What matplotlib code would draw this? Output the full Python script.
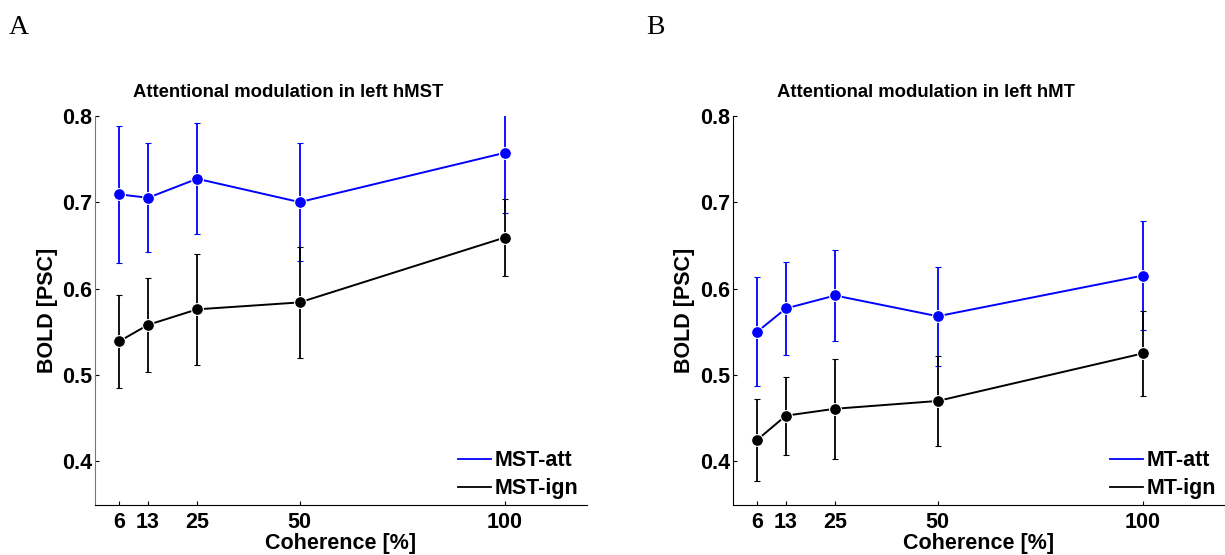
import matplotlib
matplotlib.use('Agg')
import matplotlib.pyplot as plt
from matplotlib.lines import Line2D

plt.rcParams['font.family'] = 'Liberation Sans'
plt.rcParams['font.weight'] = 'bold'

# coherence levels (%) and BOLD responses with error bars
coherence = [6, 13, 25, 50, 100]
tick_labels = ['6', '13', '25', '50', '100']
y_ticks = [0.4, 0.5, 0.6, 0.7, 0.8]

mst_att = [0.709, 0.705, 0.727, 0.700, 0.757]
mst_att_err = [0.079, 0.063, 0.064, 0.068, 0.070]
mst_ign = [0.539, 0.558, 0.576, 0.584, 0.659]
mst_ign_err = [0.054, 0.054, 0.064, 0.064, 0.045]

mt_att = [0.550, 0.577, 0.592, 0.568, 0.615]
mt_att_err = [0.063, 0.054, 0.053, 0.057, 0.063]
mt_ign = [0.425, 0.453, 0.461, 0.470, 0.525]
mt_ign_err = [0.047, 0.045, 0.058, 0.052, 0.049]

panels = [
    ('A', 'Attentional modulation in left hMST', 'MST', mst_att, mst_att_err, mst_ign, mst_ign_err),
    ('B', 'Attentional modulation in left hMT', 'MT', mt_att, mt_att_err, mt_ign, mt_ign_err),
]

fig = plt.figure(figsize=(12.25, 5.55), dpi=100)
positions = [[0.0773, 0.0906, 0.4016, 0.701], [0.598, 0.0906, 0.4019, 0.701]]

for pos, (letter, title, name, att, att_err, ign, ign_err) in zip(positions, panels):
    ax = fig.add_axes(pos)
    for vals, errs, col in [(att, att_err, 'blue'), (ign, ign_err, 'black')]:
        ax.errorbar(coherence, vals, yerr=errs, color=col, lw=1.4, elinewidth=1.3,
                    capsize=2.5, capthick=1.3, marker='o', markersize=8.5,
                    markerfacecolor=col, markeredgecolor='white', markeredgewidth=0.8)
    ax.set_xlim(0, 120)
    ax.set_ylim(0.35, 0.8)
    ax.set_xticks(coherence)
    ax.set_xticklabels(tick_labels)
    ax.set_yticks(y_ticks)
    ax.set_yticklabels(['%.1f' % v for v in y_ticks])
    ax.spines['top'].set_visible(False)
    ax.spines['right'].set_visible(False)
    if letter == 'A':
        ax.spines['left'].set_color('#777777')
    ax.tick_params(direction='in', length=3, width=0.8, labelsize=15.5)
    ax.tick_params(axis='x', pad=5.5)
    ax.tick_params(axis='y', pad=2)
    ax.set_xlabel('Coherence [%]', fontsize=15.5, fontweight='bold', labelpad=0)
    ax.set_ylabel('BOLD [PSC]', fontsize=15.5, fontweight='bold', labelpad=3)
    ax.text(0.393, 1.047, title, transform=ax.transAxes, ha='center', va='baseline',
            fontsize=13.3, fontweight='bold')
    handles = [Line2D([], [], color='blue', lw=1.3), Line2D([], [], color='black', lw=1.3)]
    ax.legend(handles, [name + '-att', name + '-ign'], loc='lower right', frameon=False,
              fontsize=15.5, handlelength=1.53, handletextpad=0.17, labelspacing=0.32,
              borderaxespad=0.0, bbox_to_anchor=(1.0, -0.008))
    ax.text(-0.175, 1.21, letter, transform=ax.transAxes, fontsize=20,
            family='Liberation Serif', fontweight='normal', va='baseline')

fig.savefig('out.png', dpi=100)
